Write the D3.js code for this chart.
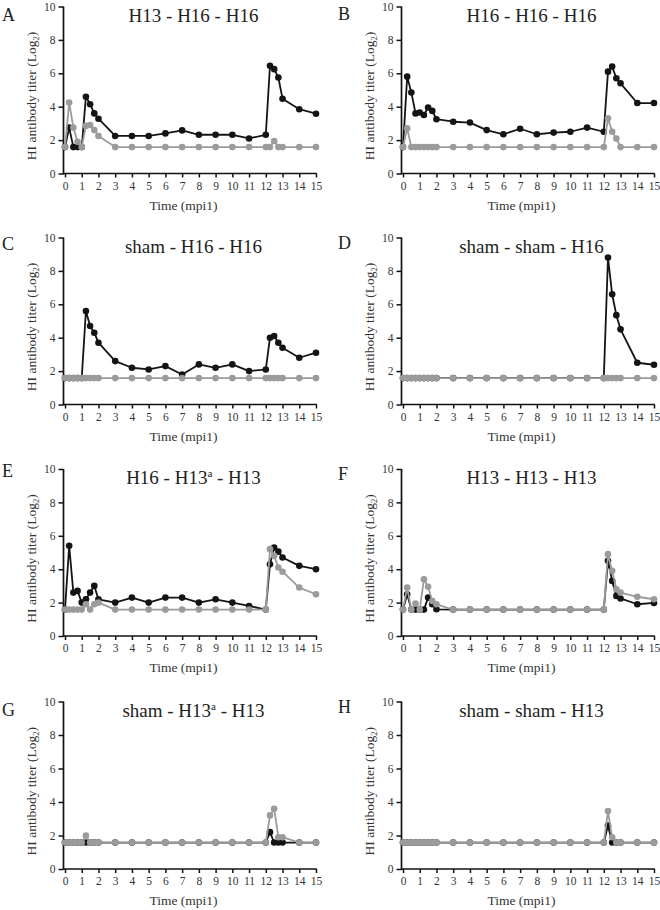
<!DOCTYPE html>
<html><head><meta charset="utf-8">
<script src="https://cdn.jsdelivr.net/npm/d3@7"></script>
<style>body{margin:0;background:#fff} svg{display:block}</style>
</head><body>
<svg id="chart" width="660" height="910"></svg>
<script>
// ---- data ----
const times = [0,0.25,0.5,0.75,1,1.25,1.5,1.75,2,3,4,5,6,7,8,9,10,11,12,12.25,12.5,12.75,13,14,15];
const xTickValues = [0,1,2,3,4,5,6,7,8,9,10,11,12,13,14,15];
const yTickValues = [0,2,4,6,8,10];
const panelLetters = ["A","B","C","D","E","F","G","H"];
const panelTitles = ["H13 - H16 - H16","H16 - H16 - H16","sham - H16 - H16","sham - sham - H16",
                     "H16 - H13^a - H13","H13 - H13 - H13","sham - H13^a - H13","sham - sham - H13"];

const blackA = [1.58,2.75,1.58,1.58,1.58,4.6,4.15,3.6,3.28, 2.25,2.25,2.25,2.4,2.58,2.32,2.32,2.32,2.1,2.32, 6.45,6.25,5.75,4.48, 3.85,3.58];
const grayA  = [1.58,4.25,2.75,1.9,1.58,2.85,2.9,2.6,2.25, 1.58,1.58,1.58,1.58,1.58,1.58,1.58,1.58,1.58,1.58, 1.58,1.95,1.58,1.58, 1.58,1.58];
const blackB = [1.58,5.8,4.85,3.6,3.65,3.5,3.95,3.75,3.25, 3.1,3.05,2.6,2.35,2.68,2.35,2.45,2.5,2.75,2.5, 6.1,6.4,5.7,5.4, 4.22,4.22];
const grayB  = [1.58,2.7,1.58,1.58,1.58,1.58,1.58,1.58,1.58, 1.58,1.58,1.58,1.58,1.58,1.58,1.58,1.58,1.58,1.58, 3.3,2.5,2.1,1.58, 1.58,1.58];
const blackC = [1.58,1.58,1.58,1.58,1.58,5.6,4.7,4.3,3.7, 2.6,2.2,2.1,2.3,1.8,2.4,2.2,2.4,2.0,2.1, 4.0,4.1,3.7,3.4, 2.8,3.1];
const grayC  = [1.58,1.58,1.58,1.58,1.58,1.58,1.58,1.58,1.58, 1.58,1.58,1.58,1.58,1.58,1.58,1.58,1.58,1.58,1.58, 1.58,1.58,1.58,1.58, 1.58,1.58];
const blackD = [1.58,1.58,1.58,1.58,1.58,1.58,1.58,1.58,1.58, 1.58,1.58,1.58,1.58,1.58,1.58,1.58,1.58,1.58,1.58, 8.8,6.6,5.35,4.5, 2.5,2.38];
const grayD  = [1.58,1.58,1.58,1.58,1.58,1.58,1.58,1.58,1.58, 1.58,1.58,1.58,1.58,1.58,1.58,1.58,1.58,1.58,1.58, 1.58,1.58,1.58,1.58, 1.58,1.58];
const blackE = [1.58,5.4,2.6,2.7,2.0,2.2,2.6,3.0,2.2, 2.0,2.3,2.0,2.3,2.3,2.0,2.2,2.0,1.8,1.58, 4.3,5.3,5.05,4.7, 4.2,4.0];
const grayE  = [1.58,1.58,1.58,1.58,1.58,1.9,1.58,1.9,2.0, 1.58,1.58,1.58,1.58,1.58,1.58,1.58,1.58,1.58,1.58, 5.2,4.8,4.1,3.85, 2.9,2.5];
const blackF = [1.58,2.5,1.58,1.58,1.58,1.58,2.3,1.9,1.6, 1.58,1.58,1.58,1.58,1.58,1.58,1.58,1.58,1.58,1.58, 4.5,3.3,2.4,2.25, 1.9,1.98];
const grayF  = [1.58,2.9,1.58,1.95,1.58,3.4,2.95,2.1,1.9, 1.58,1.58,1.58,1.58,1.58,1.58,1.58,1.58,1.58,1.58, 4.9,3.9,2.8,2.6, 2.35,2.2];
const blackG = [1.58,1.58,1.58,1.58,1.58,1.58,1.58,1.58,1.58, 1.58,1.58,1.58,1.58,1.58,1.58,1.58,1.58,1.58,1.58, 2.2,1.58,1.58,1.58, 1.58,1.58];
const grayG  = [1.58,1.58,1.58,1.58,1.58,2.0,1.58,1.58,1.58, 1.58,1.58,1.58,1.58,1.58,1.58,1.58,1.58,1.58,1.58, 3.2,3.6,1.9,1.9, 1.58,1.58];
const blackH = [1.58,1.58,1.58,1.58,1.58,1.58,1.58,1.58,1.58, 1.58,1.58,1.58,1.58,1.58,1.58,1.58,1.58,1.58,1.58, 2.6,1.58,1.58,1.58, 1.58,1.58];
const grayH  = [1.58,1.58,1.58,1.58,1.58,1.58,1.58,1.58,1.58, 1.58,1.58,1.58,1.58,1.58,1.58,1.58,1.58,1.58,1.58, 3.46,1.9,1.58,1.58, 1.58,1.58];

const blackSeries = [blackA,blackB,blackC,blackD,blackE,blackF,blackG,blackH];
const graySeries  = [grayA,grayB,grayC,grayD,grayE,grayF,grayG,grayH];

// ---- layout ----
const colX0 = [65, 403];
const plotW = 251;
const rowTop = [6.5, 237.5, 469, 701.5];
const rowBottom = [173.5, 404.5, 636, 869];
const letterPos = [[2,21],[338,20],[2,250],[338,249],[2,477],[338,480],[2,716],[338,713]];
const FONT = "'Liberation Serif','Times New Roman',serif";
const BLACK = "#141414", GRAY = "#9b9b9b";

const svg = d3.select("#chart");

panelTitles.forEach((title, i) => {
  const col = i % 2, row = Math.floor(i / 2);
  const x = d3.scaleLinear().domain([0, 15]).range([colX0[col], colX0[col] + plotW]);
  const y = d3.scaleLinear().domain([0, 10]).range([rowBottom[row], rowTop[row]]);
  const g = svg.append("g");
  const axisX = colX0[col] - 1.5;

  // y axis
  const ya = g.append("g").attr("transform", `translate(${axisX},0)`)
    .call(d3.axisLeft(y).tickValues(yTickValues).tickSize(5).tickPadding(3).tickFormat(d3.format("d")));
  // x axis
  const xa = g.append("g").attr("transform", `translate(0,${rowBottom[row]})`)
    .call(d3.axisBottom(x).tickValues(xTickValues).tickSize(4).tickPadding(4).tickFormat(d3.format("d")));
  [ya, xa].forEach(a => {
    a.select(".domain").remove();
    a.selectAll(".tick line").attr("stroke", "#111").attr("stroke-width", 1.5);
    a.selectAll("text").attr("font-family", FONT).attr("font-size", 11.5).attr("fill", "#333");
  });
  g.append("line").attr("x1", axisX).attr("x2", axisX).attr("y1", y(10)).attr("y2", y(0) + 0.8)
    .attr("stroke", "#111").attr("stroke-width", 1.7);
  g.append("line").attr("x1", axisX).attr("x2", x(15) + 0.8).attr("y1", y(0)).attr("y2", y(0))
    .attr("stroke", "#111").attr("stroke-width", 1.7);

  // series
  const line = d3.line().x((d, k) => x(times[k])).y(d => y(d));
  [[blackSeries[i], BLACK], [graySeries[i], GRAY]].forEach(([vals, c]) => {
    g.append("path").datum(vals).attr("d", line).attr("fill", "none")
      .attr("stroke", c).attr("stroke-width", 1.8).attr("stroke-linejoin", "round");
    g.append("g").selectAll("circle").data(vals).join("circle")
      .attr("cx", (d, k) => x(times[k])).attr("cy", d => y(d)).attr("r", 3.3).attr("fill", c);
  });

  // title
  const parts = title.split("^");
  const t = g.append("text").attr("x", (x(0) + x(15)) / 2 + 3).attr("y", rowTop[row] + 15)
    .attr("text-anchor", "middle").attr("font-family", FONT).attr("font-size", 19).attr("fill", "#222");
  if (parts.length === 1) t.text(title);
  else {
    t.append("tspan").text(parts[0]);
    t.append("tspan").attr("dy", -7).attr("font-size", 11).text(parts[1][0]);
    t.append("tspan").attr("dy", 7).text(parts[1].slice(1));
  }
  // letter
  g.append("text").attr("x", letterPos[i][0]).attr("y", letterPos[i][1])
    .attr("font-family", FONT).attr("font-size", 18).attr("fill", "#222").text(panelLetters[i]);
  // y label
  const yl = g.append("text")
    .attr("transform", `translate(${colX0[col] - 29},${(rowTop[row] + rowBottom[row]) / 2 + 6}) rotate(-90)`)
    .attr("text-anchor", "middle").attr("font-family", FONT).attr("font-size", 13.5).attr("fill", "#333");
  yl.append("tspan").text("HI antibody titer (Log");
  yl.append("tspan").attr("dy", 3).attr("font-size", 8.5).text("2");
  yl.append("tspan").attr("dy", -3).text(")");
  // x label
  g.append("text").attr("x", (x(0) + x(15)) / 2 - 7).attr("y", rowBottom[row] + 36)
    .attr("text-anchor", "middle").attr("font-family", FONT).attr("font-size", 13.5).attr("fill", "#333")
    .text("Time (mpi1)");
});
</script>
</body></html>
